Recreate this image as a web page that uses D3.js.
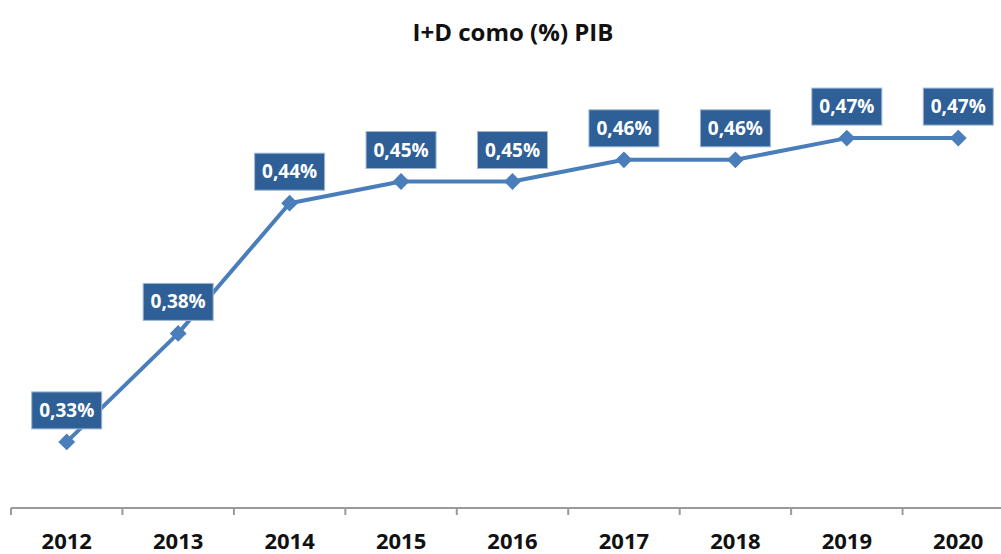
<!DOCTYPE html>
<html>
<head>
<meta charset="utf-8">
<script src="https://cdn.jsdelivr.net/npm/d3@7"></script>
<style>
  body { margin: 0; background: #fff; }
  text { font-family: "Open Sans", "Noto Sans", sans-serif; font-weight: 700; }
</style>
</head>
<body>
<script>
// data
var years = ["2012", "2013", "2014", "2015", "2016", "2017", "2018", "2019", "2020"];
var values = [0.33, 0.38, 0.44, 0.45, 0.45, 0.46, 0.46, 0.47, 0.47];
var yDomain = [0.30, 0.50];

var width = 1001, height = 554;
var lineColor = "#4a7ebb";
var boxColor = "#2f5f97";

var svg = d3.select("body").append("svg")
  .attr("width", width)
  .attr("height", height);

var x = d3.scaleBand()
  .domain(years)
  .range([11, 1014])
  .padding(0);

var y = d3.scaleLinear()
  .domain(yDomain)
  .range([507, 73]);

// title
svg.append("text")
  .attr("x", 513)
  .attr("y", 41)
  .attr("text-anchor", "middle")
  .style("font-size", "24px")
  .style("fill", "#111")
  .text("I+D como (%) PIB");

// x axis line + boundary ticks
var axisY = 508;
svg.append("line")
  .attr("x1", x.range()[0]).attr("x2", width)
  .attr("y1", axisY).attr("y2", axisY)
  .style("stroke", "#9a9a9a")
  .style("stroke-width", 2);

svg.selectAll(".tick")
  .data(years)
  .enter().append("line")
  .attr("class", "tick")
  .attr("x1", function(d) { return x(d); })
  .attr("x2", function(d) { return x(d); })
  .attr("y1", axisY)
  .attr("y2", axisY + 7)
  .style("stroke", "#9a9a9a")
  .style("stroke-width", 2);

svg.selectAll(".year")
  .data(years)
  .enter().append("text")
  .attr("class", "year")
  .attr("x", function(d) { return x(d) + x.bandwidth() / 2; })
  .attr("y", 549)
  .attr("text-anchor", "middle")
  .style("font-size", "22px")
  .style("fill", "#111")
  .text(function(d) { return d; });

// line
var pts = years.map(function(d, i) { return { year: d, v: values[i] }; });
var line = d3.line()
  .x(function(d) { return x(d.year) + x.bandwidth() / 2; })
  .y(function(d) { return y(d.v); });

svg.append("path")
  .datum(pts)
  .attr("d", line)
  .style("fill", "none")
  .style("stroke", lineColor)
  .style("stroke-width", 4)
  .style("stroke-linejoin", "round");

// diamond markers
svg.selectAll(".marker")
  .data(pts)
  .enter().append("path")
  .attr("class", "marker")
  .attr("d", d3.symbol().type(d3.symbolDiamond2).size(180))
  .attr("transform", function(d) {
    return "translate(" + (x(d.year) + x.bandwidth() / 2) + "," + y(d.v) + ")";
  })
  .style("fill", lineColor);

// labels in boxes
var labels = svg.selectAll(".lbl")
  .data(pts)
  .enter().append("g")
  .attr("class", "lbl")
  .attr("transform", function(d) {
    return "translate(" + (x(d.year) + x.bandwidth() / 2) + "," + (y(d.v) - 32) + ")";
  });

labels.append("rect")
  .attr("x", -35)
  .attr("y", -18)
  .attr("width", 70)
  .attr("height", 37)
  .style("fill", boxColor)
  .style("stroke", "#9fb6d6")
  .style("stroke-width", 1);

labels.append("text")
  .attr("x", 0)
  .attr("y", 7)
  .attr("text-anchor", "middle")
  .style("font-size", "19px")
  .style("fill", "#fff")
  .text(function(d) { return d.v.toFixed(2).replace(".", ",") + "%"; });
</script>
</body>
</html>
